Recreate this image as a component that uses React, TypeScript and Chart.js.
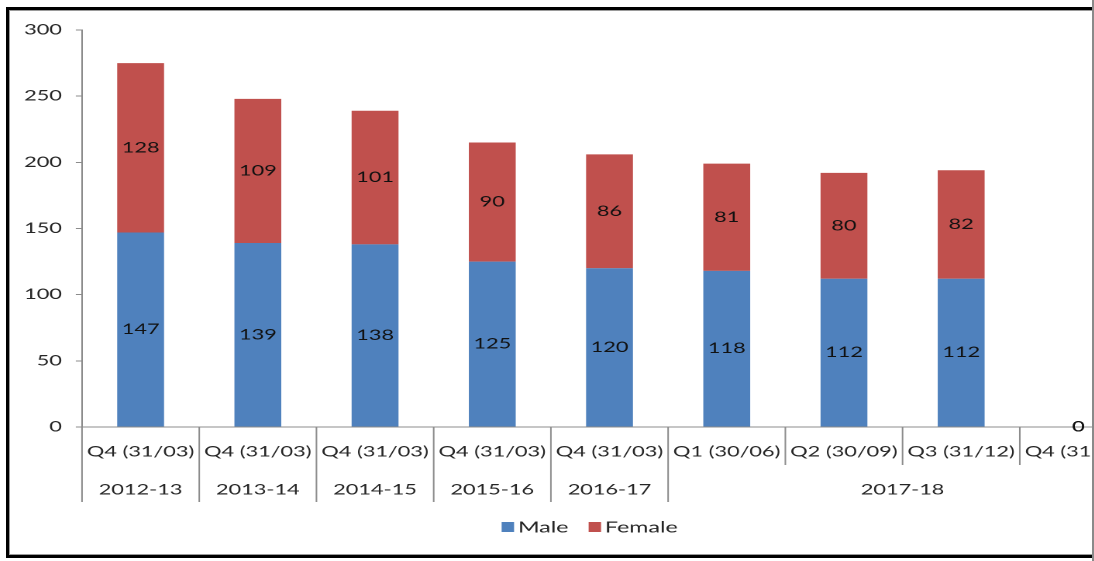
import React, { useEffect, useRef } from "react";
import { Chart, registerables } from "chart.js";

Chart.register(...registerables);

const categories = [
  "Q4 (31/03)",
  "Q4 (31/03)",
  "Q4 (31/03)",
  "Q4 (31/03)",
  "Q4 (31/03)",
  "Q1 (30/06)",
  "Q2 (30/09)",
  "Q3 (31/12)",
  "Q4 (31/03)",
];
const yearGroups = ["2012-13", "2013-14", "2014-15", "2015-16", "2016-17", "2017-18"];
const yearSpans = [1, 1, 1, 1, 1, 4];
const maleValues = [147, 139, 138, 125, 120, 118, 112, 112, 0];
const femaleValues = [128, 109, 101, 90, 86, 81, 80, 82, 0];
const yMin = 0;
const yMax = 300;
const yStep = 50;

const STRETCH = 1.55;
const FONT = "Lato, 'Open Sans', sans-serif";
const TEXT = "#262626";
const AXIS = "#8c8c8c";
const MALE = "#4F81BD";
const FEMALE = "#C0504D";

const valueLabels = {
  id: "valueLabels",
  afterDatasetsDraw(chart: any) {
    const { ctx } = chart;
    ctx.save();
    ctx.font = `14px ${FONT}`;
    ctx.fillStyle = "#111";
    ctx.textAlign = "center";
    ctx.textBaseline = "middle";
    chart.data.datasets.forEach((ds: any, di: number) => {
      const meta = chart.getDatasetMeta(di);
      meta.data.forEach((el: any, i: number) => {
        const v = ds.data[i];
        const cy = (el.y + el.base) / 2;
        ctx.fillText(String(v), el.x, cy);
      });
    });
    ctx.restore();
  },
};

const groupAxis = {
  id: "groupAxis",
  afterDraw(chart: any) {
    const { ctx } = chart;
    const x = chart.scales.x;
    const n = categories.length;
    const w = (x.right - x.left) / n;
    const y0 = x.top;
    const bounds = new Set<number>();
    let acc = 0;
    bounds.add(0);
    yearSpans.forEach((s) => {
      acc += s;
      bounds.add(acc);
    });
    ctx.save();
    ctx.strokeStyle = AXIS;
    ctx.lineWidth = 1;
    for (let b = 0; b <= n; b++) {
      const px = x.left + b * w;
      ctx.beginPath();
      ctx.moveTo(px, y0);
      ctx.lineTo(px, y0 + (bounds.has(b) ? 75 : 38));
      ctx.stroke();
    }
    ctx.font = `14px ${FONT}`;
    ctx.fillStyle = TEXT;
    ctx.textAlign = "center";
    ctx.textBaseline = "middle";
    categories.forEach((c, i) => {
      ctx.fillText(c, x.getPixelForValue(i), y0 + 25);
    });
    let start = 0;
    yearGroups.forEach((g, gi) => {
      const span = yearSpans[gi];
      ctx.fillText(g, x.left + (start + span / 2) * w, y0 + 63);
      start += span;
    });
    ctx.restore();
  },
};

const customLegend = {
  id: "customLegend",
  afterDraw(chart: any) {
    const { ctx } = chart;
    const items = chart.data.datasets.map((d: any) => ({
      label: d.label,
      color: d.backgroundColor,
    }));
    const boxW = 8;
    const boxH = 10;
    const gap = 2.5;
    const itemGap = 13;
    ctx.save();
    ctx.font = `15px ${FONT}`;
    const widths = items.map((it: any) => ctx.measureText(it.label).width);
    const total =
      widths.reduce((a: number, b: number) => a + b, 0) +
      items.length * (boxW + gap) +
      (items.length - 1) * itemGap;
    let cx = chart.width / 2 - total / 2;
    const cy = chart.height - 27;
    ctx.textAlign = "left";
    ctx.textBaseline = "middle";
    items.forEach((it: any, i: number) => {
      ctx.fillStyle = it.color;
      ctx.fillRect(cx, cy - boxH / 2, boxW, boxH);
      cx += boxW + gap;
      ctx.fillStyle = TEXT;
      ctx.fillText(it.label, cx, cy + 0.5);
      cx += widths[i] + itemGap;
    });
    ctx.restore();
  },
};

export default function App() {
  const ref = useRef<HTMLCanvasElement>(null);
  useEffect(() => {
    const chart = new Chart(ref.current as HTMLCanvasElement, {
      type: "bar",
      data: {
        labels: categories,
        datasets: [
          { label: "Male", data: maleValues, backgroundColor: MALE, borderWidth: 0 },
          { label: "Female", data: femaleValues, backgroundColor: FEMALE, borderWidth: 0 },
        ],
      },
      options: {
        animation: false,
        responsive: true,
        maintainAspectRatio: false,
        devicePixelRatio: 2,
        layout: { padding: { top: 20, right: 20.9, bottom: 44, left: 0 } },
        datasets: { bar: { barPercentage: 0.4, categoryPercentage: 1 } },
        scales: {
          x: {
            stacked: true,
            grid: { display: false },
            ticks: { display: false },
            border: { display: true, color: AXIS, width: 1 },
            afterFit: (s: any) => {
              s.height = 83;
            },
          },
          y: {
            stacked: true,
            min: yMin,
            max: yMax,
            ticks: {
              stepSize: yStep,
              padding: 9,
              color: TEXT,
              font: { family: FONT, size: 14 },
            },
            grid: { drawOnChartArea: false, drawTicks: true, tickLength: 4, color: AXIS },
            border: { display: true, color: AXIS, width: 1 },
            afterFit: (s: any) => {
              s.width = 46.45;
            },
          },
        },
        plugins: {
          tooltip: { enabled: false },
          legend: { display: false },
        },
      },
      plugins: [valueLabels, groupAxis, customLegend],
    });
    return () => chart.destroy();
  }, []);

  return (
    <div
      style={{
        position: "fixed",
        left: 0,
        top: 0,
        width: 1094,
        height: 561,
        overflow: "hidden",
        background: "#fff",
      }}
    >
      <div
        style={{
          position: "absolute",
          left: 6,
          top: 7,
          width: 1200,
          height: 551,
          boxSizing: "border-box",
          border: "3px solid #000",
          boxShadow: "inset 0 0 0 1px #9a9a9a",
        }}
      />
      <div
        style={{
          position: "absolute",
          left: 10,
          top: 10,
          width: 748,
          height: 544,
          transform: `scaleX(${STRETCH})`,
          transformOrigin: "0 0",
        }}
      >
        <canvas ref={ref} />
      </div>
      <div
        style={{
          position: "absolute",
          left: 1092,
          top: 0,
          width: 2,
          height: 561,
          background: "#8a8a8a",
        }}
      />
    </div>
  );
}
